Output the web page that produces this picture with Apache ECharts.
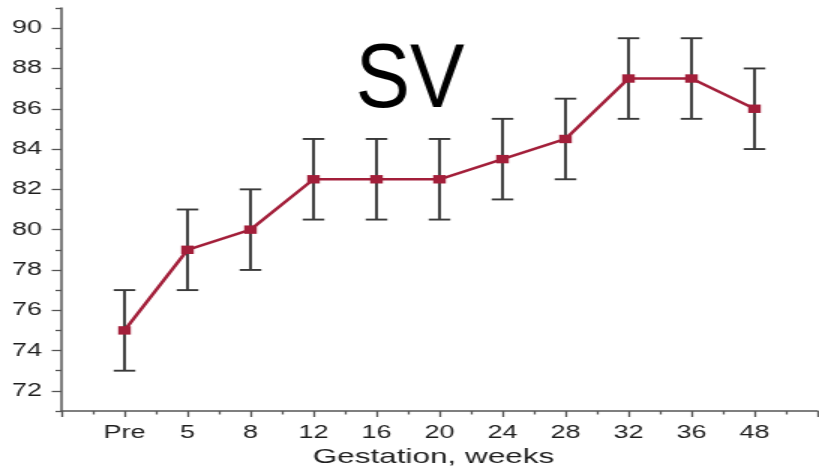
<!DOCTYPE html>
<html>
<head>
<meta charset="utf-8">
<script src="https://cdn.jsdelivr.net/npm/echarts@6/dist/echarts.min.js"></script>
<style>
  html, body { margin: 0; padding: 0; background: #fff; overflow: hidden; }
  /* the reference is stretched horizontally, so draw narrow and scale */
  #main { width: 548px; height: 473px; transform: scaleX(1.5); transform-origin: 0 0; }
</style>
</head>
<body>
<div id="main"></div>
<script>
// gestation labels, index 1..11 on the x axis
var categories = ['Pre', '5', '8', '12', '16', '20', '24', '28', '32', '36', '48'];
var svMean  = [75, 79, 80, 82.5, 82.5, 82.5, 83.5, 84.5, 87.5, 87.5, 86];
var svLow   = [73, 77, 78, 80.5, 80.5, 80.5, 81.5, 82.5, 85.5, 85.5, 84];
var svHigh  = [77, 81, 82, 84.5, 84.5, 84.5, 85.5, 86.5, 89.5, 89.5, 88];
var yMajor  = [72, 74, 76, 78, 80, 82, 84, 86, 88, 90];
var yMinor  = [71, 73, 75, 77, 79, 81, 83, 85, 87, 89, 91];

var STRETCH = 1.5;
var FONT = 'Liberation Sans, Arial, Helvetica, sans-serif';
var axisColor = '#555';
var textColor = '#1e1e1e';

var chart = echarts.init(document.getElementById('main'));

var lineData = svMean.map(function (v, i) { return [i + 1, v]; });
var barData = svMean.map(function (v, i) { return [i + 1, svLow[i], svHigh[i]]; });

var option = {
    animation: false,
    backgroundColor: '#fff',
    grid: { left: 41, right: 0, top: 8, bottom: 61 },
    graphic: [{
        // title is not stretched in the reference
        type: 'text',
        x: 410 / STRETCH,
        y: 82,
        scaleX: 0.9 / STRETCH,
        style: {
            text: 'SV',
            fontSize: 91,
            fontFamily: FONT,
            fill: '#000',
            align: 'center',
            verticalAlign: 'middle',
            textAlign: 'center',
            textVerticalAlign: 'middle'
        }
    }],
    xAxis: {
        type: 'value',
        min: 0,
        max: 12,
        interval: 1,
        name: 'Gestation, weeks',
        nameLocation: 'middle',
        nameGap: 36,
        nameTextStyle: { fontSize: 21, fontFamily: FONT, color: textColor, padding: [0, 8, 0, 0] },
        splitLine: { show: false },
        axisLine: { lineStyle: { color: axisColor, width: 1.5 } },
        axisTick: { length: 6, lineStyle: { color: axisColor, width: 1.3 } },
        minorTick: { show: true, splitNumber: 2, length: 3.5, lineStyle: { color: axisColor, width: 1.3 } },
        axisLabel: {
            margin: 13,
            fontSize: 18,
            fontFamily: FONT,
            color: textColor,
            showMinLabel: true,
            showMaxLabel: true,
            formatter: function (v) { return categories[v - 1] || ''; }
        }
    },
    yAxis: [{
        type: 'value',
        min: 71,
        max: 91,
        splitLine: { show: false },
        axisLine: { show: true, lineStyle: { color: axisColor, width: 1.5 } },
        axisTick: { show: true, length: 6.5, customValues: yMajor, lineStyle: { color: axisColor, width: 1.3 } },
        axisLabel: { margin: 13, fontSize: 18, fontFamily: FONT, color: textColor, customValues: yMajor }
    }, {
        type: 'value',
        position: 'left',
        min: 71,
        max: 91,
        splitLine: { show: false },
        axisLine: { show: false },
        axisTick: { show: true, length: 4, customValues: yMinor, lineStyle: { color: axisColor, width: 1.3 } },
        axisLabel: { show: false }
    }],
    series: [{
        // error bars
        type: 'custom',
        data: barData,
        z: 2,
        renderItem: function (params, api) {
            var x = api.value(0);
            var top = api.coord([x, api.value(2)]);
            var bot = api.coord([x, api.value(1)]);
            var cap = 7.2;
            var st = { stroke: '#3a3a3a', lineWidth: 1.9 };
            return {
                type: 'group',
                children: [
                    { type: 'line', shape: { x1: top[0], y1: top[1], x2: bot[0], y2: bot[1] }, style: st },
                    { type: 'line', shape: { x1: top[0] - cap, y1: top[1], x2: top[0] + cap, y2: top[1] }, style: st },
                    { type: 'line', shape: { x1: bot[0] - cap, y1: bot[1], x2: bot[0] + cap, y2: bot[1] }, style: st }
                ]
            };
        }
    }, {
        type: 'line',
        data: lineData,
        z: 3,
        symbol: 'rect',
        symbolSize: 8.4,
        lineStyle: { color: '#a31f3a', width: 2.5 },
        itemStyle: { color: '#a31f3a' }
    }]
};

chart.setOption(option);
</script>
</body>
</html>
